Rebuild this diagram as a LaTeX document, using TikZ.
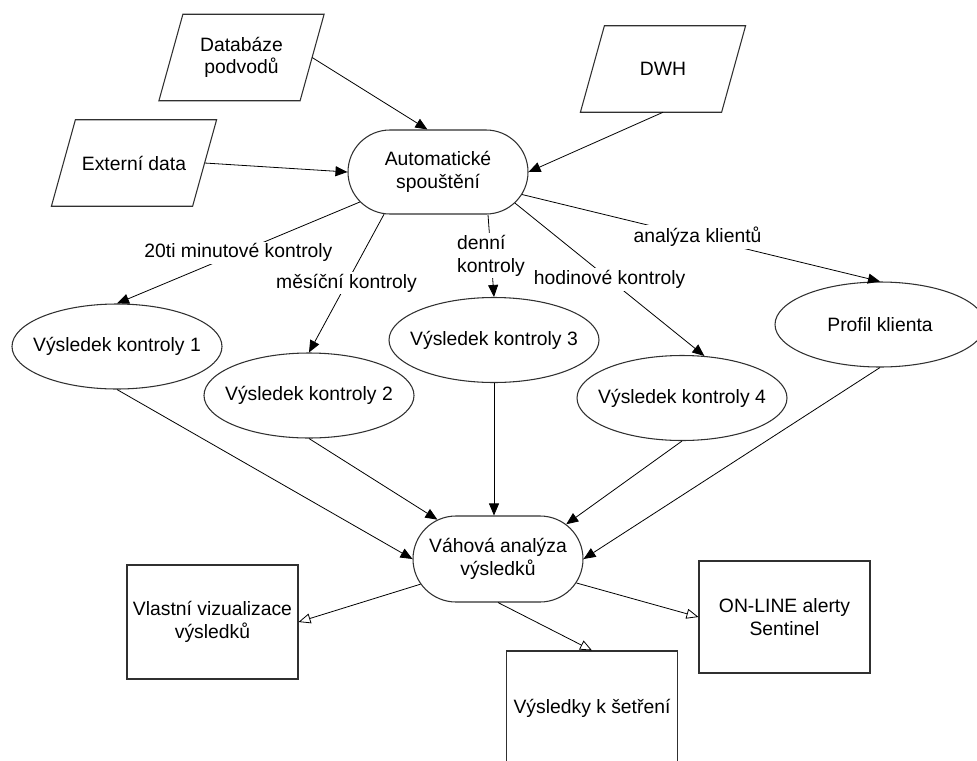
\documentclass[tikz,border=0pt]{standalone}
\usepackage{fontspec}
\setmainfont{Liberation Sans}
\usepackage{tikz}
\usetikzlibrary{shapes.geometric, shapes.misc, arrows.meta, positioning, calc}
\definecolor{edgegray}{HTML}{303030}
\newcommand{\diafont}{\fontsize{14.5}{17}\selectfont}
\tikzset{
	datain/.style={rectangle, minimum width=105.5pt, minimum height=64.5pt, inner sep=0pt, align=center, font=\diafont},
	datashape/.style={draw=edgegray, line width=0.8pt, line join=miter},
	runproc/.style={rounded rectangle, minimum width=135pt, minimum height=63pt, inner sep=0pt, align=center, draw=edgegray, line width=0.8pt, font=\diafont},
	result/.style={ellipse, minimum width=157.5pt, minimum height=63.75pt, inner xsep=-12pt, inner ysep=0pt, align=center, draw=edgegray, line width=0.8pt, font=\diafont},
	outbox/.style={rectangle, minimum width=128.25pt, minimum height=85.5pt, inner sep=0pt, align=center, draw=edgegray, line width=0.8pt, font=\diafont},
	lbl/.style={fill=white, inner sep=1.5pt, font=\diafont, align=center},
	arrow/.style={line width=0.6pt, -{Triangle[length=9pt, width=7.5pt]}},
	openarrow/.style={line width=0.6pt, -{Triangle[open, length=9pt, width=7.5pt]}}
}

\begin{document}
\begin{tikzpicture}[x=0.75pt, y=-0.75pt]
	\useasboundingbox (0,0) rectangle (977,760);
	% vstupy
	\node (db) [datain] at (241.5,57.5) {Databáze\\podvodů};
	\node (ext) [datain] at (134,163) {Externí data};
	\node (dwh) [datain] at (663,69) {DWH};
	\foreach \n in {db,ext,dwh}
		\draw [datashape] ([xshift=9pt]\n.north west) -- ([xshift=9pt]\n.north east) -- ([xshift=-9pt]\n.south east) -- ([xshift=-9pt]\n.south west) -- cycle;
	\node (auto) [runproc] at (438,172) {Automatické\\spouštění};

	% vysledky kontrol
	\node (v1) [result] at (117,346.5) {Výsledek kontroly 1};
	\node (v2) [result] at (309,395.5) {Výsledek kontroly 2};
	\node (v3) [result] at (494,340) {Výsledek kontroly 3};
	\node (v4) [result] at (682,398) {Výsledek kontroly 4};
	\node (profil) [result] at (880,324.5) {Profil klienta};

	\node (vah) [runproc, minimum width=127.5pt, minimum height=64.5pt] at (498,559) {Váhová analýza\\výsledků};

	% vystupy
	\node (vlastni) [outbox] at (212.5,622) {Vlastní vizualizace\\výsledků};
	\node (setreni) [outbox] at (592,708) {Výsledky k šetření};
	\node (online) [outbox, minimum height=84pt] at (784.5,617) {ON-LINE alerty\\Sentinel};

	\draw [arrow] (db.east) -- (auto.104);
	\draw [arrow] (ext.east) -- (auto.west);
	\draw [arrow] (dwh.south) -- (auto.east);

	% spousteni kontrol
	\draw [arrow] (auto.201) -- node [lbl, pos=0.5] {20ti minutové kontroly} (v1.north);
	\draw [arrow] (auto.218) -- node [lbl, pos=0.5] {měsíční kontroly} (v2.north);
	\draw [arrow] ([xshift=37.5pt]auto.south) -- node [lbl, align=left, pos=0.5] {denní\\kontroly} (v3.north);
	\draw [arrow] (auto.-22) -- node [lbl, pos=0.5] {hodinové kontroly} (v4.62);
	\draw [arrow] (auto.-15) -- node [lbl, pos=0.49] {analýza klientů} (profil.north);

	\draw [arrow] (v1.south) -- (vah.west);
	\draw [arrow] (v2.south) -- (vah.147);
	\draw [arrow] (v3.south) -- (v3.south |- vah.north);
	\draw [arrow] (v4.south) -- (vah.27);
	\draw [arrow] (profil.south) -- (vah.east);

	% otevrene sipky k vystupum
	\draw [openarrow] (vah.198) -- (vlastni.east);
	\draw [openarrow] (vah.south) -- (setreni.north);
	\draw [openarrow] (vah.-17) -- (online.west);
\end{tikzpicture}
\end{document}
